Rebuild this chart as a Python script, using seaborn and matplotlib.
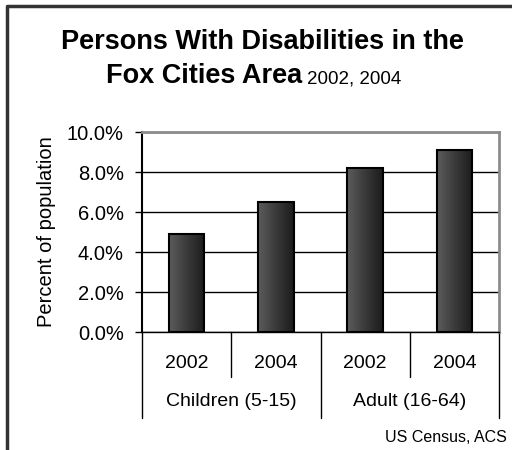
import pandas as pd
import matplotlib.pyplot as plt
import matplotlib.transforms as mtransforms
import seaborn as sns
import numpy as np

# chart data
groups = ['Children (5-15)', 'Children (5-15)', 'Adult (16-64)', 'Adult (16-64)']
years = ['2002', '2004', '2002', '2004']
pct = [4.9, 6.5, 8.2, 9.1]

sns.set_theme(style="white")
plt.rcParams['font.family'] = ['Liberation Sans', 'DejaVu Sans']
plt.rcParams['text.color'] = 'black'
plt.rcParams['axes.labelcolor'] = 'black'
plt.rcParams['ytick.color'] = 'black'

df = pd.DataFrame({'group': groups, 'year': years, 'pct': pct})
df['key'] = [f'{g} {y}' for g, y in zip(df['group'], df['year'])]

fig = plt.figure(figsize=(5.12, 4.5), dpi=100)
ax = fig.add_axes([142 / 512, 1 - 332 / 450, 357 / 512, 200 / 450])

sns.barplot(data=df, x='key', y='pct', order=list(df['key']), width=0.4,
            color='#3a3a3a', edgecolor='black', linewidth=1.5, ax=ax)

# gradient fill on each bar
grad = np.linspace(0, 1, 64).reshape(1, -1)
cmap = sns.blend_palette(['#5c5c5c', '#3a3a3a', '#1c1c1c'], as_cmap=True)
for p in ax.patches:
    x0, w, h = p.get_x(), p.get_width(), p.get_height()
    im = ax.imshow(grad, cmap=cmap, aspect='auto', extent=(x0, x0 + w, 0, h),
                   zorder=p.get_zorder() - 0.05)
    im.set_clip_path(p)
    p.set_facecolor('none')

ax.set_xlim(-0.5, 3.5)
ax.set_ylim(0, 10)
ax.set_yticks(np.arange(0, 10.1, 2))
ax.set_yticklabels([f'{v:.1f}%' for v in np.arange(0, 10.1, 2)], fontsize=14.5)
ax.yaxis.grid(True, color='black', linewidth=1)
ax.set_axisbelow(True)
ax.tick_params(axis='y', direction='out', length=5, width=1, color='black', left=True, pad=8)
ax.set_xticks([])
ax.set_xlabel('')
ax.set_ylabel('Percent of population', fontsize=14.5, labelpad=8)

for side in ['top', 'right']:
    ax.spines[side].set_color('#8c8c8c')
    ax.spines[side].set_linewidth(2)
ax.spines['left'].set_color('black')
ax.spines['left'].set_linewidth(1.5)
ax.spines['bottom'].set_color('black')
ax.spines['bottom'].set_linewidth(1)

# two-level category axis
trans = mtransforms.blended_transform_factory(ax.transData, ax.transAxes)
for i, y in enumerate(df['year']):
    ax.text(i, -0.155, y, transform=trans, ha='center', va='center', fontsize=14)
for xs in [0.5, 2.5]:
    ax.plot([xs, xs], [0, -0.225], transform=trans, color='black', lw=1, clip_on=False)
for xs in [-0.5, 1.5, 3.5]:
    ax.plot([xs, xs], [0, -0.43], transform=trans, color='black', lw=1, clip_on=False)
for g in df['group'].unique():
    idx = df.index[df['group'] == g]
    ax.text(idx.to_numpy().mean(), -0.345, g, transform=trans, ha='center', va='center', fontsize=14)

# titles
fig.text(262 / 512, 1 - 49 / 450, 'Persons With Disabilities in the', ha='center', va='baseline',
         fontsize=19.5, fontweight='bold')
fig.text(302 / 512, 1 - 83 / 450, 'Fox Cities Area', ha='right', va='baseline',
         fontsize=19.5, fontweight='bold')
fig.text(307 / 512, 1 - 83 / 450, '2002, 2004', ha='left', va='baseline', fontsize=13.5)
fig.text(507 / 512, 1 - 438 / 450, 'US Census, ACS', ha='right', va='center', fontsize=11.5)

# outer frame (left and top edges)
fig.add_artist(plt.Line2D([7 / 512, 7 / 512, 1], [0, 1 - 6 / 450, 1 - 6 / 450],
                          color='#333333', lw=2.5, transform=fig.transFigure))

fig.savefig('out.png', dpi=100)
